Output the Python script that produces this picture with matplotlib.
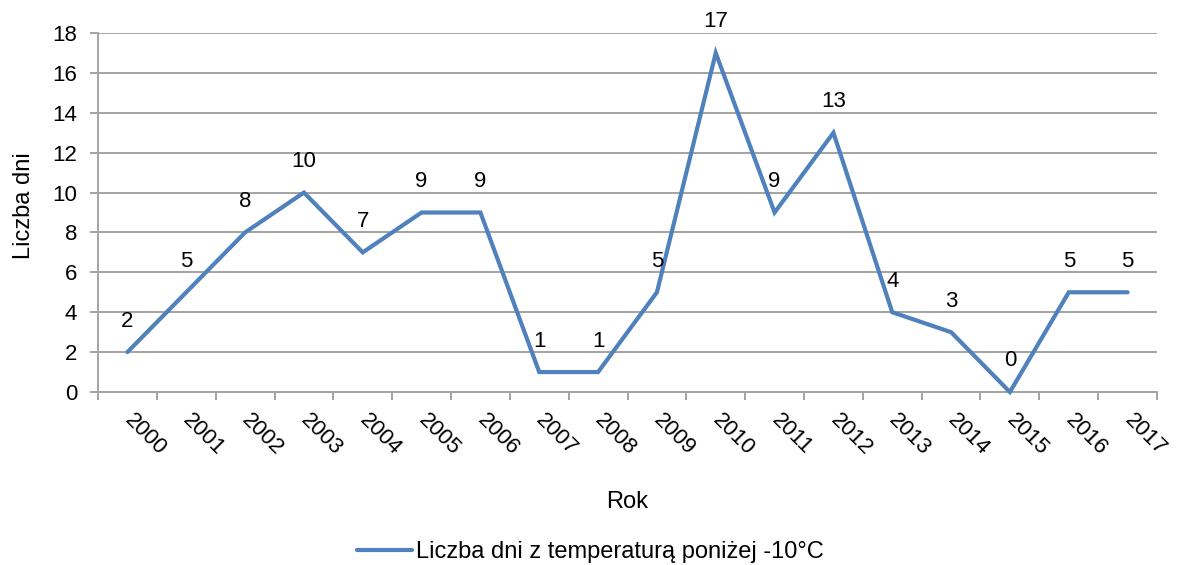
import matplotlib.pyplot as plt
import numpy as np

plt.rcParams['font.family'] = ['Liberation Sans', 'DejaVu Sans']

years = [str(y) for y in range(2000, 2018)]
days = [2, 5, 8, 10, 7, 9, 9, 1, 1, 5, 17, 9, 13, 4, 3, 0, 5, 5]

LINE_COLOR = '#4F81BD'
GRID_COLOR = '#A3A3A3'
FS = 16
FS_TITLE = 17

fig = plt.figure(figsize=(11.8, 5.65), dpi=100)
ax = fig.add_axes([98/1180, 1 - 392/565, (1157 - 98)/1180, (392 - 33)/565])

x = np.arange(len(years))
ax.plot(x, days, color=LINE_COLOR, lw=3, solid_joinstyle='miter', solid_capstyle='round',
        label='Liczba dni z temperaturą poniżej -10°C', zorder=3, clip_on=False)

for xi, v in zip(x, days):
    ax.annotate(str(v), xy=(xi, v), xytext=(0, 31), textcoords='offset pixels',
                ha='center', va='center', fontsize=FS)

ax.set_xlim(-0.5, len(years) - 0.5)
ax.set_ylim(0, 18)
ax.set_yticks(np.arange(0, 19, 2))
ax.grid(axis='y', color=GRID_COLOR, lw=1.4, zorder=0)

ax.set_xticks(x)
ax.set_xticklabels(years, rotation=-45, ha='left', va='center', rotation_mode='anchor')
ax.set_xticks(np.arange(-0.5, len(years)), minor=True)
ax.tick_params(axis='x', which='major', length=0, pad=18, labelsize=FS)
ax.tick_params(axis='x', which='minor', length=6, color=GRID_COLOR, width=1.4)
ax.tick_params(axis='y', length=6, color=GRID_COLOR, width=1.4, labelsize=FS, pad=9)

for s in ('top', 'right'):
    ax.spines[s].set_visible(False)
for s in ('left', 'bottom'):
    ax.spines[s].set_color(GRID_COLOR)
    ax.spines[s].set_linewidth(1.4)

ax.set_ylabel('Liczba dni', fontsize=FS_TITLE, va='center', ha='center')
ax.yaxis.set_label_coords((24 - 98)/1059, (392 - 206)/359)
ax.set_xlabel('Rok', fontsize=FS_TITLE, va='center', ha='center')
ax.xaxis.set_label_coords((627 - 98)/1059, (392 - 502)/359)

ax.legend(loc='center', bbox_to_anchor=(590/1180, 1 - 552/565),
          bbox_transform=fig.transFigure, frameon=False, fontsize=FS_TITLE,
          handlelength=2.33, handletextpad=0.17)

fig.savefig('out.png', dpi=100)
